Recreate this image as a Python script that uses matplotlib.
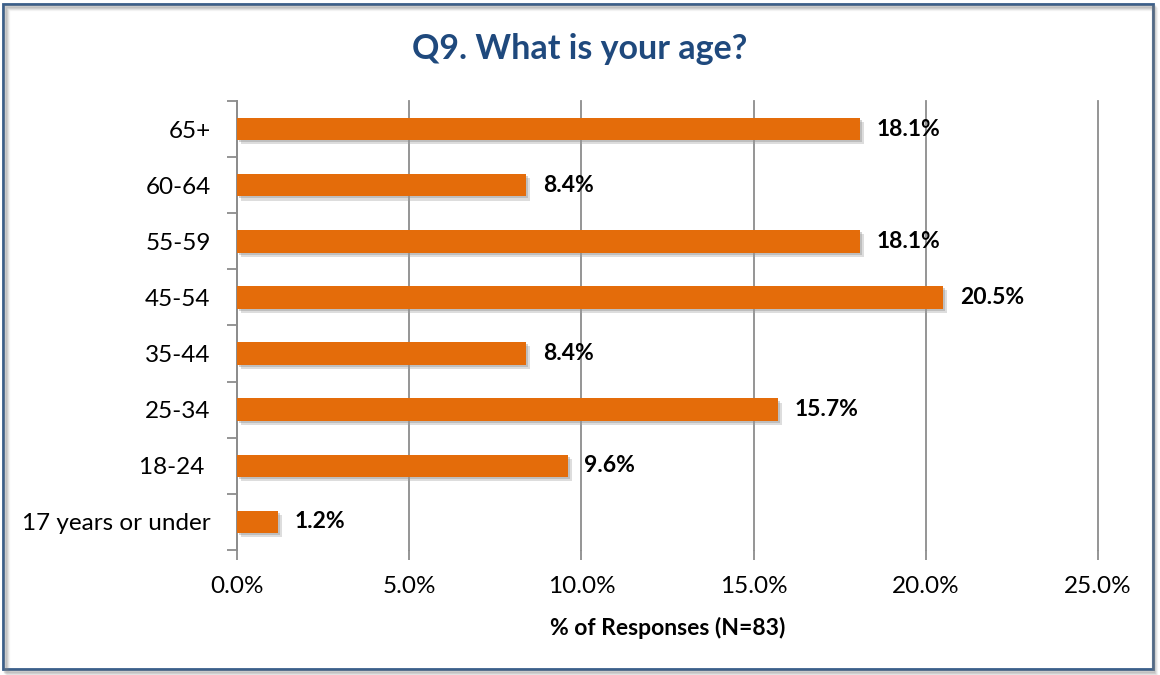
import matplotlib.pyplot as plt
import matplotlib.patheffects as pe
from matplotlib.patches import Rectangle
from matplotlib.ticker import FuncFormatter, MultipleLocator

ages = ["17 years or under", "18-24 ", "25-34", "35-44", "45-54", "55-59", "60-64", "65+"]
pct = [1.2, 9.6, 15.7, 8.4, 20.5, 18.1, 8.4, 18.1]

plt.rcParams['font.family'] = ['Lato', 'DejaVu Sans']

fig = plt.figure(figsize=(11.6, 6.75), dpi=100)
ax = fig.add_axes([0.2043, 0.1852, 0.7422, 0.6652])

bars = ax.barh(range(len(ages)), pct, height=0.4, color="#E46C0A", zorder=3)
for b in bars:
    b.set_path_effects([pe.SimplePatchShadow(offset=(3, -3), shadow_rgbFace="#a0a0a0", alpha=0.35),
                        pe.SimplePatchShadow(offset=(1.5, -1.5), shadow_rgbFace="#909090", alpha=0.4),
                        pe.Normal()])

for i, v in enumerate(pct):
    ax.annotate(f"{v:.1f}%", (v, i), xytext=(12, 0), textcoords="offset points",
                va="center", ha="left", fontsize=16.5, fontweight="bold", zorder=4)

ax.set_xlim(0, 25)
ax.set_ylim(-0.5, len(ages) - 0.5)
ax.xaxis.set_major_locator(MultipleLocator(5))
ax.xaxis.set_major_formatter(FuncFormatter(lambda x, p: f"{x:.1f}%"))
ax.set_yticks(range(len(ages)))
ax.set_yticklabels(ages)
ax.set_yticks([i - 0.5 for i in range(len(ages) + 1)], minor=True)

ax.grid(axis="x", color="#8c8c8c", linewidth=1.3, zorder=0)
for line in ax.get_xgridlines():
    line.set_clip_on(False)
for s in ["top", "right", "bottom"]:
    ax.spines[s].set_visible(False)
ax.spines["left"].set_color("#8c8c8c")
ax.spines["left"].set_linewidth(1.3)

ax.tick_params(axis="y", which="major", length=0, pad=19, labelsize=17.5)
ax.tick_params(axis="y", which="minor", length=7, width=1.3, color="#8c8c8c")
ax.tick_params(axis="x", length=7, width=1.3, color="#8c8c8c", pad=12, labelsize=17.5)

ax.set_xlabel("% of Responses (N=83)", fontsize=16.5, fontweight="bold", labelpad=14)
fig.text(0.5, 0.928, "Q9. What is your age?", ha="center", va="center",
         fontsize=24.5, fontweight="bold", color="#1F497D")

# outer chart frame with a soft shadow along the right and bottom
for k, a in enumerate([0.25, 0.18, 0.12, 0.07]):
    fig.patches.append(Rectangle((0.004 + k * 0.0009, 0.006 - k * 0.0015), 0.99, 0.985,
                                 transform=fig.transFigure, fill=False,
                                 edgecolor="#808080", alpha=a, linewidth=2.5))
fig.patches.append(Rectangle((0.003, 0.009), 0.991, 0.985, transform=fig.transFigure,
                             facecolor="white", edgecolor="#385D8A", linewidth=2, zorder=-1))

fig.savefig("out.png", dpi=100)
